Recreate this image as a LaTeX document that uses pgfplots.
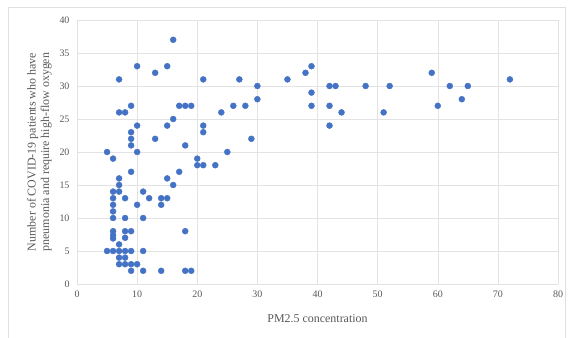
\documentclass[border=0pt]{standalone}
\usepackage{fontspec}
\setmainfont{Liberation Serif}
\usepackage{pgfplots}
\pgfplotsset{compat=1.18}
\definecolor{ptblue}{HTML}{4472C4}
\definecolor{txtgray}{HTML}{595959}
\begin{document}
\begin{tikzpicture}[x=1bp,y=1bp]
\useasboundingbox (0,0) rectangle (572,337);
\draw[gray!25] (8,-1) -- (8,330) -- (565,330) -- (565,-1);
\begin{axis}[
  at={(77bp,53bp)}, anchor=south west,
  scale only axis, width=481bp, height=264bp,
  xmin=0, xmax=80, ymin=0, ymax=40,
  xtick distance=10, ytick distance=5,
  grid=major, major grid style={gray!22},
  axis line style={draw=none}, tick style={draw=none},
  /pgf/number format/assume math mode=true,
  tick label style={font=\fontsize{10}{12}\selectfont, text=txtgray},
  xticklabel style={yshift=-3bp},
  yticklabel style={xshift=-4bp},
  xlabel={PM2.5 concentration},
  ylabel={Number of COVID-19 patients who have\\pneumonia and require high-flow oxygen},
  label style={font=\fontsize{12}{13.5}\selectfont, text=txtgray},
  xlabel style={at={(axis description cs:0.5,-0.13)}, anchor=center},
  ylabel style={at={(axis description cs:-0.078,0.5)}, anchor=center, align=center, rotate=0},
]
\addplot[only marks, mark=*, mark size=3pt, color=ptblue] coordinates {
(5,20) (6,19) (7,31) (7,26) (8,26) (9,27) (10,33) (10,24) (9,23) (9,22) (9,21) (10,20) (9,17)
(7,16) (7,15) (7,14) (6,14) (6,13) (6,12) (6,11) (6,10) (8,13) (8,10) (11,14) (12,13) (10,12) (11,10)
(14,13) (15,13) (14,12) (15,16) (16,15) (17,17)
(20,19) (20,18) (21,18) (23,18) (25,20)
(6,8) (6,7.4) (6,6.9) (8,8) (9,8) (8,7) (18,8)
(5,5) (6,5) (7,5) (8,5) (9,5) (11,5) (7,6) (7,4) (8,4) (7,3) (8,3) (9,3) (10,3) (9,2) (11,2) (14,2) (18,2) (19,2)
(16,37) (13,32) (15,33) (21,31) (17,27) (18,27) (19,27) (16,25) (15,24) (13,22) (18,21) (21,24) (21,23)
(27,31) (30,30) (30,28) (35,31) (38,32) (39,33) (39,29) (39,27) (42,30) (43,30) (42,27) (44,26) (42,24) (48,30) (24,26) (26,27) (28,27) (29,22)
(52,30) (51,26) (59,32) (60,27) (62,30) (65,30) (64,28) (72,31)
};
\end{axis}
\end{tikzpicture}
\end{document}
